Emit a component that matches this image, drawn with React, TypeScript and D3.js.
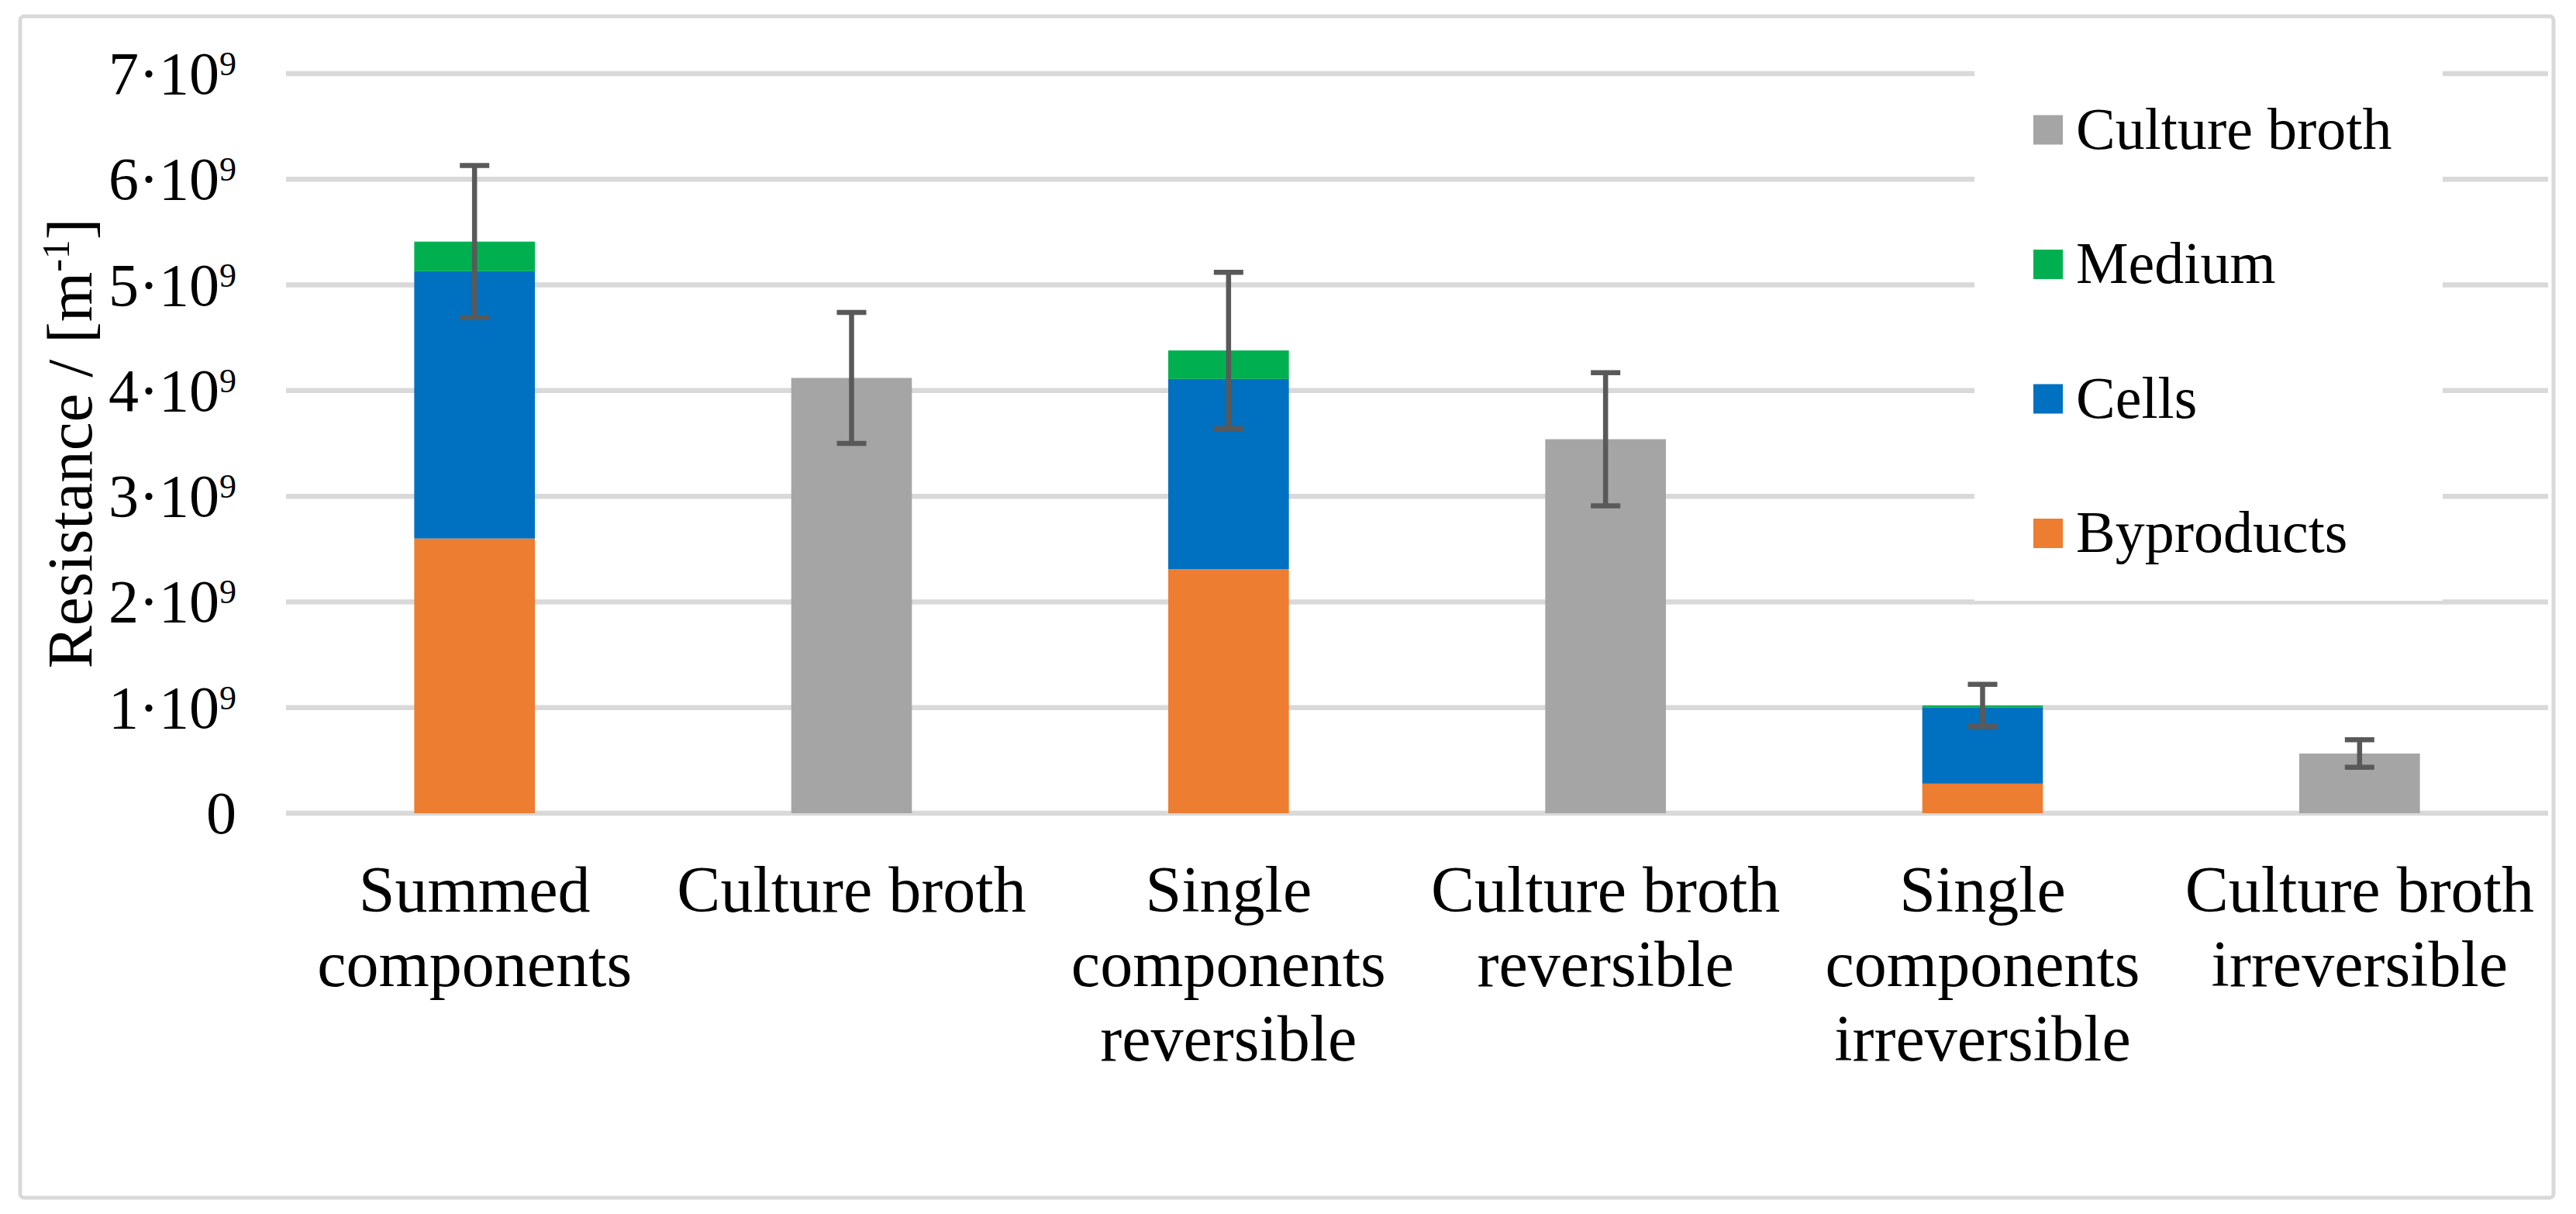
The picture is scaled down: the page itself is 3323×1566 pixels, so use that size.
import React, { useRef, useEffect } from 'react';
import * as d3 from 'd3';

// category labels, one entry per line of the wrapped tick text
const categories = [
  ['Summed', 'components'],
  ['Culture broth'],
  ['Single', 'components', 'reversible'],
  ['Culture broth', 'reversible'],
  ['Single', 'components', 'irreversible'],
  ['Culture broth', 'irreversible'],
];

// values in units of 1e9 m^-1
const byproducts = [2.6, 0, 2.31, 0, 0.28, 0];
const cells = [2.53, 0, 1.8, 0, 0.72, 0];
const medium = [0.28, 0, 0.27, 0, 0.02, 0];
const cultureBroth = [0, 4.12, 0, 3.54, 0, 0.565];
const errors = [0.72, 0.62, 0.74, 0.63, 0.2, 0.13];

const yTicks = [0, 1, 2, 3, 4, 5, 6, 7];

const seriesKeys = ['byproducts', 'cells', 'medium', 'cultureBroth'];
const seriesNames: { [k: string]: string } = {
  byproducts: 'Byproducts',
  cells: 'Cells',
  medium: 'Medium',
  cultureBroth: 'Culture broth',
};
const seriesColors: { [k: string]: string } = {
  byproducts: '#ED7D31',
  cells: '#0070C0',
  medium: '#00B050',
  cultureBroth: '#A5A5A5',
};
// legend is listed top-down in reverse stack order
const legendOrder = ['cultureBroth', 'medium', 'cells', 'byproducts'];

const FONT = '"Liberation Serif", "Times New Roman", serif';

const App: React.FC = () => {
  const chartRef = useRef<SVGSVGElement>(null);

  useEffect(() => {
    if (!chartRef.current) return;
    const svg = d3.select(chartRef.current);
    svg.selectAll('*').remove();

    const plot = { left: 369, right: 3287, top: 95, bottom: 1049 };

    // outer chart border
    svg.append('rect')
      .attr('x', 26).attr('y', 21)
      .attr('width', 3268).attr('height', 1524)
      .attr('rx', 5)
      .attr('fill', '#fff')
      .attr('stroke', '#d9d9d9')
      .attr('stroke-width', 5);

    const table = categories.map((c, i) => ({
      idx: i,
      byproducts: byproducts[i],
      cells: cells[i],
      medium: medium[i],
      cultureBroth: cultureBroth[i],
    }));

    const x = d3.scaleBand<number>()
      .domain(table.map(d => d.idx))
      .range([plot.left, plot.right])
      .paddingInner(0.68)
      .paddingOuter(0.34);

    const y = d3.scaleLinear()
      .domain([0, 7])
      .range([plot.bottom, plot.top]);

    // gridlines
    svg.append('g')
      .selectAll('line')
      .data(yTicks)
      .enter()
      .append('line')
      .attr('x1', plot.left)
      .attr('x2', plot.right)
      .attr('y1', d => y(d))
      .attr('y2', d => y(d))
      .attr('stroke', '#d9d9d9')
      .attr('stroke-width', 6.5);

    // y tick labels  n·10^9
    const tickG = svg.append('g')
      .attr('font-family', FONT)
      .attr('font-size', 78)
      .attr('fill', '#000');
    yTicks.forEach(t => {
      const txt = tickG.append('text')
        .attr('x', 305)
        .attr('y', y(t) + 26)
        .attr('text-anchor', 'end');
      if (t === 0) {
        txt.text('0');
      } else {
        txt.append('tspan').text(`${t}\u00B710`);
        txt.append('tspan').attr('font-size', 44).attr('dy', -24).text('9');
      }
    });

    // stacked bars
    const stack = d3.stack<any>().keys(seriesKeys);
    const layers = stack(table);
    svg.append('g')
      .selectAll('g')
      .data(layers)
      .enter()
      .append('g')
      .attr('fill', d => seriesColors[d.key])
      .selectAll('rect')
      .data(d => d)
      .enter()
      .append('rect')
      .attr('x', d => x(d.data.idx) || 0)
      .attr('width', x.bandwidth())
      .attr('y', d => y(d[1]))
      .attr('height', d => Math.max(0, y(d[0]) - y(d[1])));

    // error bars
    const totals = table.map(d => seriesKeys.reduce((s, k) => s + (d as any)[k], 0));
    const errG = svg.append('g')
      .attr('stroke', '#595959')
      .attr('stroke-width', 6.5);
    totals.forEach((tot, i) => {
      const cx = (x(i) || 0) + x.bandwidth() / 2;
      const y1 = y(tot + errors[i]);
      const y0 = y(tot - errors[i]);
      errG.append('line').attr('x1', cx).attr('x2', cx).attr('y1', y1).attr('y2', y0);
      errG.append('line').attr('x1', cx - 19).attr('x2', cx + 19).attr('y1', y1).attr('y2', y1);
      errG.append('line').attr('x1', cx - 19).attr('x2', cx + 19).attr('y1', y0).attr('y2', y0);
    });

    // category labels
    const catG = svg.append('g')
      .attr('font-family', FONT)
      .attr('font-size', 84)
      .attr('fill', '#000')
      .attr('text-anchor', 'middle');
    categories.forEach((lines, i) => {
      const cx = (x(i) || 0) + x.bandwidth() / 2;
      lines.forEach((ln, j) => {
        catG.append('text')
          .attr('x', cx)
          .attr('y', 1176 + j * 96)
          .text(ln);
      });
    });

    // y axis title
    const title = svg.append('text')
      .attr('transform', `translate(118, ${(plot.top + plot.bottom) / 2}) rotate(-90)`)
      .attr('text-anchor', 'middle')
      .attr('font-family', FONT)
      .attr('font-size', 83)
      .attr('fill', '#000');
    title.append('tspan').text('Resistance / [m');
    title.append('tspan').attr('font-size', 50).attr('dy', -29).text('-1');
    title.append('tspan').attr('dy', 29).text(']');

    // legend
    const legend = svg.append('g').attr('font-family', FONT).attr('font-size', 76);
    legend.append('rect')
      .attr('x', 2547).attr('y', 82)
      .attr('width', 604).attr('height', 693)
      .attr('fill', '#fff');
    legendOrder.forEach((k, i) => {
      const cy = 167.5 + i * 173.5;
      legend.append('rect')
        .attr('x', 2623).attr('y', cy - 19)
        .attr('width', 38).attr('height', 38)
        .attr('fill', seriesColors[k]);
      legend.append('text')
        .attr('x', 2678)
        .attr('y', cy + 24)
        .attr('fill', '#000')
        .text(seriesNames[k]);
    });
  }, []);

  return (
    <div style={{ position: 'absolute', left: 0, top: 0 }}>
      <svg ref={chartRef} width={3323} height={1566} style={{ display: 'block', background: '#fff' }} />
    </div>
  );
};

export default App;
